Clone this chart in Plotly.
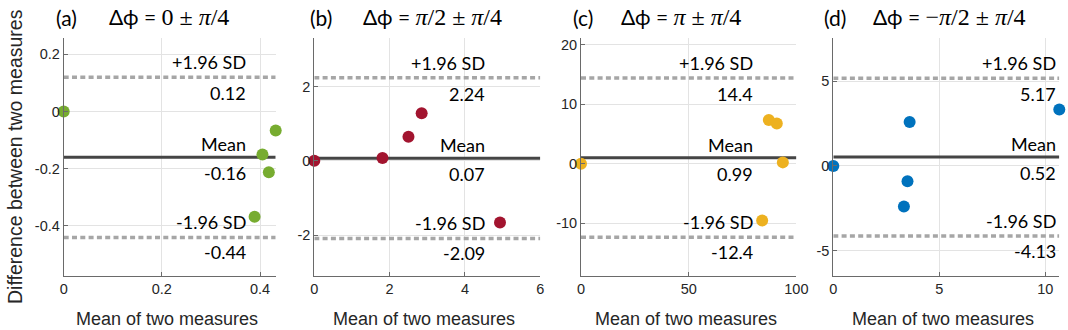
import plotly.graph_objects as go

# ---------------- data ----------------
panel_labels = ["(a)", "(b)", "(c)", "(d)"]
phase_center = ["0", "<i>π</i>/2", "<i>π</i>", "−<i>π</i>/2"]
mean_of_two = [
    [0, 0.405, 0.418, 0.389, 0.432],
    [0, 1.81, 2.50, 2.85, 4.93],
    [0, 87.2, 90.9, 93.7, 84.1],
    [0, 3.60, 3.50, 3.33, 10.66],
]
diff_of_two = [
    [0, -0.150, -0.212, -0.368, -0.066],
    [0, 0.08, 0.65, 1.28, -1.66],
    [0, 7.37, 6.75, 0.22, -9.56],
    [0, 2.58, -0.91, -2.39, 3.33],
]
bias = [-0.16, 0.07, 0.99, 0.52]
upper_loa = [0.12, 2.24, 14.4, 5.17]
lower_loa = [-0.44, -2.09, -12.4, -4.13]
x_ranges = [[0, 0.432], [0, 6], [0, 100], [0, 10.66]]
y_ranges = [[-0.575, 0.256], [-3.1, 3.3], [-18.9, 21.1], [-6.49, 7.52]]
x_tickvals = [[0, 0.2, 0.4], [0, 2, 4, 6], [0, 50, 100], [0, 5, 10]]
x_ticktext = [["0", "0.2", "0.4"], ["0", "2", "4", "6"], ["0", "50", "100"], ["0", "5", "10"]]
y_tickvals = [[-0.4, -0.2, 0, 0.2], [-2, 0, 2], [-10, 0, 10, 20], [-5, 0, 5]]
y_ticktext = [["-0.4", "-0.2", "0", "0.2"], ["-2", "0", "2"], ["-10", "0", "10", "20"], ["-5", "0", "5"]]
colors = ["#77AC30", "#A2142F", "#EDB120", "#0072BD"]

# ---------------- layout geometry (pixels) ----------------
W, H = 1068, 330
ax_left = [63.7, 314.3, 581.0, 833.3]
ax_right = [275.7, 540.3, 796.4, 1059.3]
ax_top, ax_bottom = 38.3, 276.0
label_right = [248, 487, 755, 1058]
title_lab_x = [54, 308, 571, 822]
title_eq_x = [107, 361, 619, 871]

def px(x):
    return x / W

def py(y):
    return 1 - y / H

TEXT_FONT = "Lato"
AX_FONT = "Liberation Sans"

fig = go.Figure()
annotations = []

for i in range(4):
    xa = "x" if i == 0 else f"x{i+1}"
    ya = "y" if i == 0 else f"y{i+1}"
    fig.add_trace(go.Scatter(x=x_ranges[i], y=[upper_loa[i]] * 2, mode="lines",
                             line=dict(color="#a6a6a6", width=3.5, dash="5px,3.3px"),
                             xaxis=xa, yaxis=ya, showlegend=False, hoverinfo="skip"))
    fig.add_trace(go.Scatter(x=x_ranges[i], y=[lower_loa[i]] * 2, mode="lines",
                             line=dict(color="#a6a6a6", width=3.5, dash="5px,3.3px"),
                             xaxis=xa, yaxis=ya, showlegend=False, hoverinfo="skip"))
    fig.add_trace(go.Scatter(x=x_ranges[i], y=[bias[i]] * 2, mode="lines",
                             line=dict(color="#454545", width=3),
                             xaxis=xa, yaxis=ya, showlegend=False, hoverinfo="skip"))
    fig.add_trace(go.Scatter(x=mean_of_two[i], y=diff_of_two[i], mode="markers",
                             marker=dict(color=colors[i], size=12, line=dict(width=0)),
                             cliponaxis=False, xaxis=xa, yaxis=ya, showlegend=False))

    dom_x = [px(ax_left[i]), px(ax_right[i])]
    common = dict(showgrid=True, gridcolor="#e3e3e3", gridwidth=1, zeroline=False,
                  showline=True, linecolor="#6a6a6a", linewidth=1, automargin=False,
                  ticks="inside", ticklen=4, tickcolor="#6a6a6a",
                  tickfont=dict(family=AX_FONT, size=14.5, color="#262626"))
    fig.layout[("xaxis" if i == 0 else f"xaxis{i+1}")] = dict(
        domain=dom_x, anchor=ya, range=x_ranges[i], tickmode="array",
        tickvals=x_tickvals[i], ticktext=x_ticktext[i], **common)
    fig.layout[("yaxis" if i == 0 else f"yaxis{i+1}")] = dict(
        domain=[py(ax_bottom), py(ax_top)], anchor=xa, range=y_ranges[i], tickmode="array",
        tickvals=y_tickvals[i], ticktext=y_ticktext[i], **common)

    lx = px(label_right[i])
    items = [
        ("+1.96 SD", upper_loa[i], 15),
        (f"{upper_loa[i]:.3g}", upper_loa[i], -16),
        ("Mean", bias[i], 13),
        (f"{bias[i]:.3g}", bias[i], -16),
        ("-1.96 SD", lower_loa[i], 15),
        (f"{lower_loa[i]:.3g}", lower_loa[i], -15),
    ]
    for txt, yv, shift in items:
        annotations.append(dict(text=txt, x=lx, xref="paper", y=yv, yref=ya,
                                xanchor="right", yanchor="middle", yshift=shift,
                                showarrow=False,
                                font=dict(family=TEXT_FONT, size=18, color="#000000")))

    annotations.append(dict(text=panel_labels[i], x=px(title_lab_x[i]), y=py(17),
                            xref="paper", yref="paper", xanchor="left", yanchor="middle",
                            showarrow=False, font=dict(family=TEXT_FONT, size=21, color="#000")))
    eq = ('Δϕ = <span style="font-family:Liberation Serif;font-size:24px">'
          + phase_center[i] + ' ± <i>π</i>/4</span>')
    annotations.append(dict(text=eq, x=px(title_eq_x[i]), y=py(17),
                            xref="paper", yref="paper", xanchor="left", yanchor="middle",
                            showarrow=False, font=dict(family=TEXT_FONT, size=21, color="#000")))

    annotations.append(dict(text="Mean of two measures",
                            x=px((ax_left[i] + ax_right[i]) / 2 - 3), y=py(319),
                            xref="paper", yref="paper", xanchor="center", yanchor="middle",
                            showarrow=False, font=dict(family=AX_FONT, size=18, color="#262626")))

annotations.append(dict(text="Difference between two measures", x=px(15), y=py(157),
                        xref="paper", yref="paper", xanchor="center", yanchor="middle",
                        textangle=-90, showarrow=False,
                        font=dict(family=AX_FONT, size=19.5, color="#262626")))

fig.update_layout(width=W, height=H, autosize=False, margin=dict(l=0, r=0, t=0, b=0),
                  paper_bgcolor="white", plot_bgcolor="white",
                  annotations=annotations, showlegend=False)

fig.write_html("out.html",
               config={"displayModeBar": False, "responsive": False},
               post_script=("document.documentElement.style.overflow='hidden';"
                            "document.body.style.overflow='hidden';"
                            "document.body.style.margin='0';document.body.style.padding='0';"))
